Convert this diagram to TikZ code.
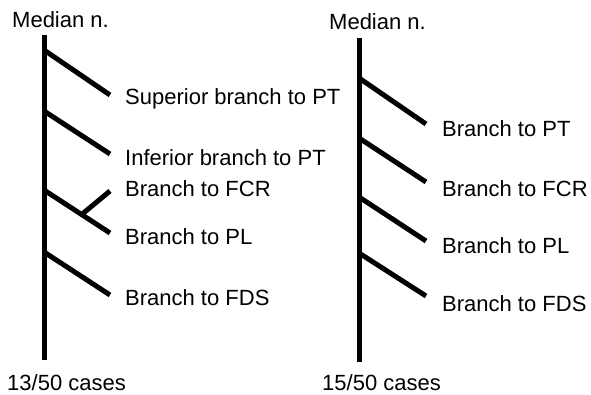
\documentclass[tikz,border=0pt]{standalone}
\usepackage{fontspec}
\setmainfont{Liberation Sans}
\usetikzlibrary{calc}
\begin{document}
\begin{tikzpicture}[x=1pt, y=-1pt,
    nerve/.style={line width=5pt},
    lbl/.style={anchor=base west, inner sep=0pt, font=\fontsize{22}{25}\selectfont}]
    \useasboundingbox (0,0) rectangle (591,395);

    % Batang kiri (13/50)
    \coordinate (LTop) at (44,35);
    \coordinate (LBot) at (44,360);
    \draw[nerve] (LTop) -- (LBot);
    \node[lbl] (LMed) at (12,28) {Median n.};
    \node[lbl] (LCase) at (7,390) {13/50 cases};

    % Cabang-cabang kiri
    \coordinate (LB1) at (44,50);  \coordinate (LE1) at (110,95);
    \coordinate (LB2) at (44,111); \coordinate (LE2) at (110,154);
    \coordinate (LB3) at (44,190); \coordinate (LE3) at (110,233);
    \coordinate (LB4) at (44,252); \coordinate (LE4) at (110,295);
    \coordinate (LS3) at ($(LB3)!0.57!(LE3)$);
    \coordinate (LF3) at (110,191);
    \draw[nerve] (LB1) -- (LE1);
    \draw[nerve] (LB2) -- (LE2);
    \draw[nerve] (LB3) -- (LE3);
    \draw[nerve] (LS3) -- (LF3);
    \draw[nerve] (LB4) -- (LE4);

    % Label kiri
    \node[lbl] (LPT1) at (125,105) {Superior branch to PT};
    \node[lbl] (LPT2) at (125,166) {Inferior branch to PT};
    \node[lbl] (LFCR) at (125,197) {Branch to FCR};
    \node[lbl] (LPL) at (125,244) {Branch to PL};
    \node[lbl] (LFDS) at (125,305) {Branch to FDS};

    % Batang kanan (15/50)
    \coordinate (RTop) at (359,38);
    \coordinate (RBot) at (359,362);
    \draw[nerve] (RTop) -- (RBot);
    \node[lbl] (RMed) at (329,30) {Median n.};
    \node[lbl] (RCase) at (322,390) {15/50 cases};

    % Cabang-cabang kanan
    \coordinate (RB1) at (359,78);  \coordinate (RE1) at (426,124);
    \coordinate (RB2) at (359,138); \coordinate (RE2) at (426,182);
    \coordinate (RB3) at (359,197); \coordinate (RE3) at (426,241);
    \coordinate (RB4) at (359,253); \coordinate (RE4) at (426,296);
    \draw[nerve] (RB1) -- (RE1);
    \draw[nerve] (RB2) -- (RE2);
    \draw[nerve] (RB3) -- (RE3);
    \draw[nerve] (RB4) -- (RE4);

    % Label kanan
    \node[lbl] (RPT) at (442,137) {Branch to PT};
    \node[lbl] (RFCR) at (442,197) {Branch to FCR};
    \node[lbl] (RPL) at (442,254) {Branch to PL};
    \node[lbl] (RFDS) at (442,311) {Branch to FDS};

\end{tikzpicture}
\end{document}
